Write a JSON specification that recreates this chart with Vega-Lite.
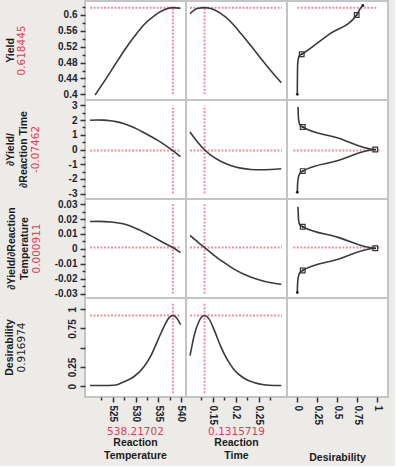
{
"$schema": "https://vega.github.io/schema/vega-lite/v6.json",
"background": "#ecebe8",
"padding": {"left": 4, "top": 0, "right": 6, "bottom": 2},
"columns": 3,
"spacing": 0,
"bounds": "flush",
"datasets": {
"c11": [{"x":521.1,"y":0.398},{"x":523.1,"y":0.432},{"x":525.3,"y":0.471},{"x":527.5,"y":0.51},{"x":529.7,"y":0.545},{"x":531.9,"y":0.576},{"x":534.1,"y":0.598},{"x":536.3,"y":0.613},{"x":538.2,"y":0.6185},{"x":539.9,"y":0.617}],
"c12": [{"x":0.1,"y":0.603},{"x":0.1159,"y":0.6165},{"x":0.1316,"y":0.6185},{"x":0.145,"y":0.6165},{"x":0.1667,"y":0.604},{"x":0.1885,"y":0.583},{"x":0.2102,"y":0.554},{"x":0.232,"y":0.523},{"x":0.2537,"y":0.491},{"x":0.2754,"y":0.46},{"x":0.2985,"y":0.429}],
"c21": [{"x":520,"y":1.99},{"x":521.5,"y":2.01},{"x":523,"y":2.0},{"x":524.5,"y":1.96},{"x":526,"y":1.88},{"x":527.5,"y":1.75},{"x":529,"y":1.58},{"x":530.5,"y":1.37},{"x":532,"y":1.12},{"x":533.5,"y":0.87},{"x":535,"y":0.6},{"x":536.5,"y":0.3},{"x":538.2,"y":-0.075},{"x":539.9,"y":-0.49}],
"c22": [{"x":0.1,"y":1.2},{"x":0.1079,"y":0.85},{"x":0.1159,"y":0.53},{"x":0.1316,"y":-0.02},{"x":0.145,"y":-0.39},{"x":0.1667,"y":-0.8},{"x":0.1885,"y":-1.09},{"x":0.2102,"y":-1.27},{"x":0.232,"y":-1.36},{"x":0.2537,"y":-1.38},{"x":0.2754,"y":-1.36},{"x":0.2985,"y":-1.31}],
"c31": [{"x":520,"y":0.0184},{"x":522,"y":0.0185},{"x":524.5,"y":0.0181},{"x":527.5,"y":0.0167},{"x":530.4,"y":0.0133},{"x":533.3,"y":0.0089},{"x":536.3,"y":0.0039},{"x":538.2,"y":0.0009},{"x":539.9,"y":-0.0025}],
"c32": [{"x":0.1,"y":0.0091},{"x":0.1159,"y":0.0049},{"x":0.1316,"y":0.0009},{"x":0.1522,"y":-0.0043},{"x":0.1739,"y":-0.0091},{"x":0.1957,"y":-0.0136},{"x":0.2174,"y":-0.0171},{"x":0.2391,"y":-0.0198},{"x":0.2609,"y":-0.0218},{"x":0.2826,"y":-0.0231},{"x":0.2985,"y":-0.0238}],
"c41": [{"x":520,"y":0.009},{"x":522.5,"y":0.009},{"x":525.3,"y":0.013},{"x":526.4,"y":0.03},{"x":527.5,"y":0.057},{"x":529.7,"y":0.126},{"x":531.9,"y":0.257},{"x":533.3,"y":0.387},{"x":534.8,"y":0.583},{"x":536.3,"y":0.778},{"x":537.4,"y":0.89},{"x":538.2,"y":0.917},{"x":539,"y":0.888},{"x":539.9,"y":0.8}],
"c42": [{"x":0.1,"y":0.396},{"x":0.1045,"y":0.53},{"x":0.1087,"y":0.648},{"x":0.1196,"y":0.843},{"x":0.1316,"y":0.917},{"x":0.1413,"y":0.874},{"x":0.1522,"y":0.735},{"x":0.1667,"y":0.518},{"x":0.1811,"y":0.344},{"x":0.1957,"y":0.214},{"x":0.2174,"y":0.104},{"x":0.2391,"y":0.048},{"x":0.2609,"y":0.018},{"x":0.2826,"y":0.009},{"x":0.2985,"y":0.009}],
"c13": [{"i":1,"x":0,"y":0.4},{"i":2,"x":0.002,"y":0.46},{"i":3,"x":0.006,"y":0.48},{"i":4,"x":0.015,"y":0.492},{"i":5,"x":0.03,"y":0.498},{"i":6,"x":0.055,"y":0.501},{"i":7,"x":0.4,"y":0.552},{"i":8,"x":0.742,"y":0.6},{"i":9,"x":0.79,"y":0.617},{"i":10,"x":0.82,"y":0.624}],
"m13": [{"x":0.055,"y":0.501},{"x":0.742,"y":0.6}],
"e13": [{"x":0,"y":0.4},{"x":0.82,"y":0.624}],
"c23": [{"i":1,"x":0.009,"y":2.89},{"i":2,"x":0.012,"y":2.35},{"i":3,"x":0.018,"y":1.97},{"i":4,"x":0.032,"y":1.7},{"i":5,"x":0.0675,"y":1.53},{"i":6,"x":0.5,"y":0.8},{"i":7,"x":0.975,"y":0},{"i":8,"x":0.5,"y":-0.77},{"i":9,"x":0.0675,"y":-1.47},{"i":10,"x":0.03,"y":-1.65},{"i":11,"x":0.012,"y":-1.95},{"i":12,"x":0.004,"y":-2.3},{"i":13,"x":0,"y":-2.91}],
"m23": [{"x":0.0675,"y":1.53},{"x":0.975,"y":0},{"x":0.0675,"y":-1.47}],
"e23": [{"x":0,"y":-2.91}],
"c33": [{"i":1,"x":0.009,"y":0.0282},{"i":2,"x":0.012,"y":0.0225},{"i":3,"x":0.018,"y":0.0187},{"i":4,"x":0.032,"y":0.016},{"i":5,"x":0.0675,"y":0.0149},{"i":6,"x":0.5,"y":0.0079},{"i":7,"x":0.975,"y":0.0004},{"i":8,"x":0.5,"y":-0.0072},{"i":9,"x":0.0675,"y":-0.0145},{"i":10,"x":0.03,"y":-0.016},{"i":11,"x":0.012,"y":-0.0192},{"i":12,"x":0.004,"y":-0.0227},{"i":13,"x":0,"y":-0.0293}],
"m33": [{"x":0.0675,"y":0.0149},{"x":0.975,"y":0.0004},{"x":0.0675,"y":-0.0145}],
"e33": [{"x":0,"y":-0.0293}],
"h11": [{"x":520,"x2":540,"y":0.618445}],
"v11": [{"x":538.217,"y":0.4,"y2":0.621}],
"h12": [{"x":0.1,"x2":0.3,"y":0.618445}],
"v12": [{"x":0.1315719,"y":0.4,"y2":0.621}],
"h13": [{"x":0,"x2":1,"y":0.618445}],
"h21": [{"x":520,"x2":540,"y":-0.07462}],
"v21": [{"x":538.217,"y":-3,"y2":3}],
"h22": [{"x":0.1,"x2":0.3,"y":-0.07462}],
"v22": [{"x":0.1315719,"y":-3,"y2":3}],
"h23": [{"x":-0.05,"x2":1.05,"y":-0.07462}],
"h31": [{"x":520,"x2":540,"y":0.000911}],
"v31": [{"x":538.217,"y":-0.03,"y2":0.03}],
"h32": [{"x":0.1,"x2":0.3,"y":0.000911}],
"v32": [{"x":0.1315719,"y":-0.03,"y2":0.03}],
"h33": [{"x":-0.05,"x2":1.05,"y":0.000911}],
"h41": [{"x":520,"x2":540,"y":0.916974}],
"v41": [{"x":538.217,"y":-0.09,"y2":1.075}],
"h42": [{"x":0.1,"x2":0.3,"y":0.916974}],
"v42": [{"x":0.1315719,"y":-0.09,"y2":1.075}]
},
"concat": [
{"width": 101, "height": 99,
"title": {"text": "Yield", "subtitle": "0.618445", "offset": 30},
"encoding": {
"x": {"field": "x", "type": "quantitative", "scale": {"domain": [518.9, 541.1], "nice": false, "zero": false}, "axis": null},
"y": {"field": "y", "type": "quantitative", "scale": {"domain": [0.3856, 0.6353], "nice": false, "zero": false},
"axis": {"title": null, "values": [0.4,0.42,0.44,0.46,0.48,0.5,0.52,0.54,0.56,0.58,0.6,0.62], "format": ".2~f",
"labelExpr": "indexof([0.42,0.46,0.5,0.54,0.58,0.62], datum.value) >= 0 ? '' : datum.label",
"tickSize": {"condition": {"test": "indexof([0.42,0.46,0.5,0.54,0.58,0.62], datum.value) >= 0", "value": 3}, "value": 5}}}
},
"layer": [
{"data": {"name": "h11"}, "mark": {"type": "rule", "color": "#ee7088", "strokeWidth": 2, "strokeDash": [2, 1.5], "opacity": 0.8}, "encoding": {"x2": {"field": "x2"}}},
{"data": {"name": "v11"}, "mark": {"type": "rule", "color": "#ee7088", "strokeWidth": 2, "strokeDash": [2, 1.5], "opacity": 0.8}, "encoding": {"y2": {"field": "y2"}}},
{"data": {"name": "c11"}, "mark": {"type": "line", "color": "#3a3a3a", "strokeWidth": 1.6, "interpolate": "monotone"}}
]},
{"width": 101, "height": 99,
"encoding": {
"x": {"field": "x", "type": "quantitative", "scale": {"domain": [0.0913, 0.3109], "nice": false, "zero": false}, "axis": null},
"y": {"field": "y", "type": "quantitative", "scale": {"domain": [0.3856, 0.6353], "nice": false, "zero": false}, "axis": null}
},
"layer": [
{"data": {"name": "h12"}, "mark": {"type": "rule", "color": "#ee7088", "strokeWidth": 2, "strokeDash": [2, 1.5], "opacity": 0.8}, "encoding": {"x2": {"field": "x2"}}},
{"data": {"name": "v12"}, "mark": {"type": "rule", "color": "#ee7088", "strokeWidth": 2, "strokeDash": [2, 1.5], "opacity": 0.8}, "encoding": {"y2": {"field": "y2"}}},
{"data": {"name": "c12"}, "mark": {"type": "line", "color": "#3a3a3a", "strokeWidth": 1.6, "interpolate": "monotone"}}
]},
{"width": 101, "height": 99,
"encoding": {
"x": {"field": "x", "type": "quantitative", "scale": {"domain": [-0.129, 1.134], "nice": false, "zero": false}, "axis": null},
"y": {"field": "y", "type": "quantitative", "scale": {"domain": [0.3856, 0.6353], "nice": false, "zero": false}, "axis": null}
},
"layer": [
{"data": {"name": "h13"}, "mark": {"type": "rule", "color": "#ee7088", "strokeWidth": 2, "strokeDash": [2, 1.5], "opacity": 0.8}, "encoding": {"x2": {"field": "x2"}}},
{"data": {"name": "c13"}, "mark": {"type": "line", "color": "#3a3a3a", "strokeWidth": 1.6, "interpolate": "monotone"}, "encoding": {"order": {"field": "i", "type": "quantitative"}}},
{"data": {"name": "m13"}, "mark": {"type": "point", "shape": "square", "size": 22, "filled": false, "color": "#333333", "strokeWidth": 1.2, "opacity": 1}},
{"data": {"name": "m13"}, "mark": {"type": "circle", "size": 3, "color": "#222222", "opacity": 1}},
{"data": {"name": "e13"}, "mark": {"type": "circle", "size": 8, "color": "#222222", "opacity": 1}}
]},
{"width": 101, "height": 99,
"title": {"text": ["∂Yield/", "∂Reaction Time"], "subtitle": "-0.07462", "offset": 27},
"encoding": {
"x": {"field": "x", "type": "quantitative", "scale": {"domain": [518.9, 541.1], "nice": false, "zero": false}, "axis": null},
"y": {"field": "y", "type": "quantitative", "scale": {"domain": [-3.37, 3.37], "nice": false, "zero": false},
"axis": {"title": null, "values": [-3,-2.5,-2,-1.5,-1,-0.5,0,0.5,1,1.5,2,2.5,3], "format": ".2~f",
"labelExpr": "datum.value % 1 != 0 ? '' : replace(datum.label, '\u2212', '-')",
"tickSize": {"condition": {"test": "datum.value % 1 != 0", "value": 3}, "value": 5}}}
},
"layer": [
{"data": {"name": "h21"}, "mark": {"type": "rule", "color": "#ee7088", "strokeWidth": 2, "strokeDash": [2, 1.5], "opacity": 0.8}, "encoding": {"x2": {"field": "x2"}}},
{"data": {"name": "v21"}, "mark": {"type": "rule", "color": "#ee7088", "strokeWidth": 2, "strokeDash": [2, 1.5], "opacity": 0.8}, "encoding": {"y2": {"field": "y2"}}},
{"data": {"name": "c21"}, "mark": {"type": "line", "color": "#3a3a3a", "strokeWidth": 1.6, "interpolate": "monotone"}}
]},
{"width": 101, "height": 99,
"encoding": {
"x": {"field": "x", "type": "quantitative", "scale": {"domain": [0.0913, 0.3109], "nice": false, "zero": false}, "axis": null},
"y": {"field": "y", "type": "quantitative", "scale": {"domain": [-3.37, 3.37], "nice": false, "zero": false}, "axis": null}
},
"layer": [
{"data": {"name": "h22"}, "mark": {"type": "rule", "color": "#ee7088", "strokeWidth": 2, "strokeDash": [2, 1.5], "opacity": 0.8}, "encoding": {"x2": {"field": "x2"}}},
{"data": {"name": "v22"}, "mark": {"type": "rule", "color": "#ee7088", "strokeWidth": 2, "strokeDash": [2, 1.5], "opacity": 0.8}, "encoding": {"y2": {"field": "y2"}}},
{"data": {"name": "c22"}, "mark": {"type": "line", "color": "#3a3a3a", "strokeWidth": 1.6, "interpolate": "monotone"}}
]},
{"width": 101, "height": 99,
"encoding": {
"x": {"field": "x", "type": "quantitative", "scale": {"domain": [-0.129, 1.134], "nice": false, "zero": false}, "axis": null},
"y": {"field": "y", "type": "quantitative", "scale": {"domain": [-3.37, 3.37], "nice": false, "zero": false}, "axis": null}
},
"layer": [
{"data": {"name": "h23"}, "mark": {"type": "rule", "color": "#ee7088", "strokeWidth": 2, "strokeDash": [2, 1.5], "opacity": 0.8}, "encoding": {"x2": {"field": "x2"}}},
{"data": {"name": "c23"}, "mark": {"type": "line", "color": "#3a3a3a", "strokeWidth": 1.6, "interpolate": "monotone"}, "encoding": {"order": {"field": "i", "type": "quantitative"}}},
{"data": {"name": "m23"}, "mark": {"type": "point", "shape": "square", "size": 22, "filled": false, "color": "#333333", "strokeWidth": 1.2, "opacity": 1}},
{"data": {"name": "m23"}, "mark": {"type": "circle", "size": 3, "color": "#222222", "opacity": 1}},
{"data": {"name": "e23"}, "mark": {"type": "circle", "size": 8, "color": "#222222", "opacity": 1}}
]},
{"width": 101, "height": 99,
"title": {"text": ["∂Yield/∂Reaction", "Temperature"], "subtitle": "0.000911", "offset": 12},
"encoding": {
"x": {"field": "x", "type": "quantitative", "scale": {"domain": [518.9, 541.1], "nice": false, "zero": false}, "axis": null},
"y": {"field": "y", "type": "quantitative", "scale": {"domain": [-0.033, 0.0335], "nice": false, "zero": false},
"axis": {"title": null, "values": [-0.03,-0.025,-0.02,-0.015,-0.01,-0.005,0,0.005,0.01,0.015,0.02,0.025,0.03], "format": ".2~f",
"labelExpr": "indexof([-0.025,-0.015,-0.005,0.005,0.015,0.025], datum.value) >= 0 ? '' : replace(datum.label, '\u2212', '-')",
"tickSize": {"condition": {"test": "indexof([-0.025,-0.015,-0.005,0.005,0.015,0.025], datum.value) >= 0", "value": 3}, "value": 5}}}
},
"layer": [
{"data": {"name": "h31"}, "mark": {"type": "rule", "color": "#ee7088", "strokeWidth": 2, "strokeDash": [2, 1.5], "opacity": 0.8}, "encoding": {"x2": {"field": "x2"}}},
{"data": {"name": "v31"}, "mark": {"type": "rule", "color": "#ee7088", "strokeWidth": 2, "strokeDash": [2, 1.5], "opacity": 0.8}, "encoding": {"y2": {"field": "y2"}}},
{"data": {"name": "c31"}, "mark": {"type": "line", "color": "#3a3a3a", "strokeWidth": 1.6, "interpolate": "monotone"}}
]},
{"width": 101, "height": 99,
"encoding": {
"x": {"field": "x", "type": "quantitative", "scale": {"domain": [0.0913, 0.3109], "nice": false, "zero": false}, "axis": null},
"y": {"field": "y", "type": "quantitative", "scale": {"domain": [-0.033, 0.0335], "nice": false, "zero": false}, "axis": null}
},
"layer": [
{"data": {"name": "h32"}, "mark": {"type": "rule", "color": "#ee7088", "strokeWidth": 2, "strokeDash": [2, 1.5], "opacity": 0.8}, "encoding": {"x2": {"field": "x2"}}},
{"data": {"name": "v32"}, "mark": {"type": "rule", "color": "#ee7088", "strokeWidth": 2, "strokeDash": [2, 1.5], "opacity": 0.8}, "encoding": {"y2": {"field": "y2"}}},
{"data": {"name": "c32"}, "mark": {"type": "line", "color": "#3a3a3a", "strokeWidth": 1.6, "interpolate": "monotone"}}
]},
{"width": 101, "height": 99,
"encoding": {
"x": {"field": "x", "type": "quantitative", "scale": {"domain": [-0.129, 1.134], "nice": false, "zero": false}, "axis": null},
"y": {"field": "y", "type": "quantitative", "scale": {"domain": [-0.033, 0.0335], "nice": false, "zero": false}, "axis": null}
},
"layer": [
{"data": {"name": "h33"}, "mark": {"type": "rule", "color": "#ee7088", "strokeWidth": 2, "strokeDash": [2, 1.5], "opacity": 0.8}, "encoding": {"x2": {"field": "x2"}}},
{"data": {"name": "c33"}, "mark": {"type": "line", "color": "#3a3a3a", "strokeWidth": 1.6, "interpolate": "monotone"}, "encoding": {"order": {"field": "i", "type": "quantitative"}}},
{"data": {"name": "m33"}, "mark": {"type": "point", "shape": "square", "size": 22, "filled": false, "color": "#333333", "strokeWidth": 1.2, "opacity": 1}},
{"data": {"name": "m33"}, "mark": {"type": "circle", "size": 3, "color": "#222222", "opacity": 1}},
{"data": {"name": "e33"}, "mark": {"type": "circle", "size": 8, "color": "#222222", "opacity": 1}}
]},
{"width": 101, "height": 99,
"title": {"text": "Desirability", "subtitle": "0.916974", "offset": 40, "subtitleColor": "#1b1b1b"},
"encoding": {
"x": {"field": "x", "type": "quantitative", "scale": {"domain": [518.9, 541.1], "nice": false, "zero": false},
"axis": {"title": null, "values": [522.5,525,527.5,530,532.5,535,537.5,540], "format": ".2~f", "labelAngle": 90, "labelPadding": 3,
"labelExpr": "indexof([522.5,527.5,532.5,537.5], datum.value) >= 0 ? '' : datum.label",
"tickSize": {"condition": {"test": "indexof([522.5,527.5,532.5,537.5], datum.value) >= 0", "value": 3}, "value": 5}}},
"y": {"field": "y", "type": "quantitative", "scale": {"domain": [-0.14, 1.145], "nice": false, "zero": false},
"axis": {"title": null, "values": [0,0.25,0.5,0.75,1], "format": ".2~f", "labelAngle": -90, "labelPadding": 3, "tickSize": 5,
"labelExpr": "datum.value == 0.5 ? '' : datum.label"}}
},
"layer": [
{"data": {"name": "h41"}, "mark": {"type": "rule", "color": "#ee7088", "strokeWidth": 2, "strokeDash": [2, 1.5], "opacity": 0.8}, "encoding": {"x2": {"field": "x2"}}},
{"data": {"name": "v41"}, "mark": {"type": "rule", "color": "#ee7088", "strokeWidth": 2, "strokeDash": [2, 1.5], "opacity": 0.8}, "encoding": {"y2": {"field": "y2"}}},
{"data": {"name": "c41"}, "mark": {"type": "line", "color": "#3a3a3a", "strokeWidth": 1.6, "interpolate": "monotone"}}
]},
{"width": 101, "height": 99,
"encoding": {
"x": {"field": "x", "type": "quantitative", "scale": {"domain": [0.0913, 0.3109], "nice": false, "zero": false},
"axis": {"title": null, "values": [0.125,0.15,0.175,0.2,0.225,0.25,0.275], "format": ".2~f", "labelAngle": 90, "labelPadding": 3,
"labelExpr": "indexof([0.125,0.175,0.225,0.275], datum.value) >= 0 ? '' : datum.label",
"tickSize": {"condition": {"test": "indexof([0.125,0.175,0.225,0.275], datum.value) >= 0", "value": 3}, "value": 5}}},
"y": {"field": "y", "type": "quantitative", "scale": {"domain": [-0.14, 1.145], "nice": false, "zero": false}, "axis": null}
},
"layer": [
{"data": {"name": "h42"}, "mark": {"type": "rule", "color": "#ee7088", "strokeWidth": 2, "strokeDash": [2, 1.5], "opacity": 0.8}, "encoding": {"x2": {"field": "x2"}}},
{"data": {"name": "v42"}, "mark": {"type": "rule", "color": "#ee7088", "strokeWidth": 2, "strokeDash": [2, 1.5], "opacity": 0.8}, "encoding": {"y2": {"field": "y2"}}},
{"data": {"name": "c42"}, "mark": {"type": "line", "color": "#3a3a3a", "strokeWidth": 1.6, "interpolate": "monotone"}}
]},
{"width": 101, "height": 99,
"data": {"values": []},
"mark": "point",
"encoding": {
"x": {"field": "x", "type": "quantitative", "scale": {"domain": [-0.129, 1.134], "nice": false, "zero": false},
"axis": {"title": null, "values": [0,0.25,0.5,0.75,1], "format": ".2~f", "labelAngle": 90, "labelPadding": 3, "tickSize": 5}}
}},
{"width": 101, "height": 1, "view": {"stroke": null, "fill": null},
"title": {"text": "538.21702", "subtitle": ["Reaction", "Temperature"], "orient": "bottom", "offset": 29, "font": "DejaVu Sans", "fontWeight": "normal", "color": "#e23b55", "subtitleFont": "Liberation Sans", "subtitleFontWeight": "bold", "subtitleColor": "#1b1b1b", "subtitleLineHeight": 13.5, "subtitlePadding": 0},
"data": {"values": []}, "mark": "point"},
{"width": 101, "height": 1, "view": {"stroke": null, "fill": null},
"title": {"text": "0.1315719", "subtitle": ["Reaction", "Time"], "orient": "bottom", "offset": 29, "font": "DejaVu Sans", "fontWeight": "normal", "color": "#e23b55", "subtitleFont": "Liberation Sans", "subtitleFontWeight": "bold", "subtitleColor": "#1b1b1b", "subtitleLineHeight": 13.5, "subtitlePadding": 0},
"data": {"values": []}, "mark": "point"},
{"width": 101, "height": 1, "view": {"stroke": null, "fill": null},
"title": {"text": "Desirability", "orient": "bottom", "offset": 55, "font": "Liberation Sans", "fontWeight": "bold", "color": "#1b1b1b"},
"data": {"values": []}, "mark": "point"}
],
"config": {
"view": {"stroke": "#c4c4c4", "strokeWidth": 2, "fill": "white"},
"concat": {"spacing": 0},
"axis": {"domain": false, "grid": false, "tickColor": "#333333", "tickWidth": 1.5, "labelFont": "Liberation Sans", "labelFontWeight": "bold", "labelFontSize": 10, "labelColor": "#1e1e2e", "labelPadding": 3, "labelOverlap": false, "labelFlush": false, "labelBound": false},
"title": {"orient": "left", "anchor": "middle", "frame": "group", "font": "Liberation Sans", "fontSize": 10.5, "fontWeight": "bold", "color": "#1b1b1b", "lineHeight": 13, "subtitleFont": "DejaVu Sans", "subtitleFontSize": 10.5, "subtitleFontWeight": "normal", "subtitleColor": "#e23b55", "subtitlePadding": 1, "subtitleLineHeight": 13}
}
}
